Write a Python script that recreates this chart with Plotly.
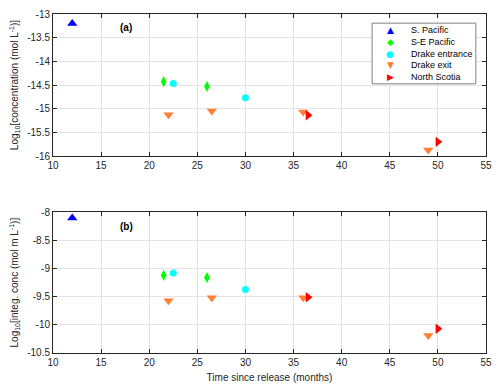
import plotly.graph_objects as go

# Panel (a): log10 concentration
sp_x = [12.0]
sp_a = [-13.2]
sep_x = [21.5, 26.0]
sep_a = [-14.43, -14.53]
de_x = [22.5, 30.0]
de_a = [-14.47, -14.77]
dx_x = [22.0, 26.5, 36.0, 49.0]
dx_a = [-15.13, -15.05, -15.07, -15.87]
ns_x = [36.5, 50.0]
ns_a = [-15.14, -15.7]

# Panel (b): log10 integrated concentration
sp_b = [-8.1]
sep_b = [-9.12, -9.16]
de_b = [-9.08, -9.37]
dx_b = [-9.57, -9.52, -9.52, -10.19]
ns_b = [-9.51, -10.07]

x_ticks = [10, 15, 20, 25, 30, 35, 40, 45, 50, 55]
ya_ticks = [-13, -13.5, -14, -14.5, -15, -15.5, -16]
yb_ticks = [-8, -8.5, -9, -9.5, -10, -10.5]

series = [
    ("S. Pacific", sp_x, sp_a, sp_b, "triangle-up", "#0000ff", 9, "\u25b2"),
    ("S-E Pacific", sep_x, sep_a, sep_b, "diamond-tall", "#00ff00", 8, "\u25c6"),
    ("Drake entrance", de_x, de_a, de_b, "circle", "#00ffff", 7, "\u25cf"),
    ("Drake exit", dx_x, dx_a, dx_b, "triangle-down", "#ff7f33", 9, "\u25bc"),
    ("North Scotia", ns_x, ns_a, ns_b, "triangle-right", "#ff0000", 9, "\u25b6"),
]

fig = go.Figure()
for name, xs, ya, yb, sym, col, sz, glyph in series:
    fig.add_trace(go.Scatter(x=xs, y=ya, mode="markers", name=name, showlegend=False,
                             marker=dict(symbol=sym, color=col, size=sz, line=dict(width=0)),
                             xaxis="x", yaxis="y"))
    fig.add_trace(go.Scatter(x=xs, y=yb, mode="markers", name=name, showlegend=False,
                             marker=dict(symbol=sym, color=col, size=sz, line=dict(width=0)),
                             xaxis="x2", yaxis="y2"))

font_fam = "Liberation Sans, Arial, sans-serif"
axcol = "#262626"
gridcol = "#e3e3e3"

def fmt(v):
    return "%g" % v

common = dict(showline=True, linecolor=axcol, linewidth=1, mirror="ticks",
              ticks="inside", ticklen=4, tickcolor=axcol, showgrid=True,
              gridcolor=gridcol, zeroline=False, tickfont=dict(size=10, color=axcol))

# custom compact legend (paper coordinates)
leg_x0, leg_x1, leg_y0, leg_y1 = 0.737, 0.9765, 0.794, 0.973
sym_x, txt_x = 0.779, 0.8226
row_y = [0.9528, 0.9188, 0.8832, 0.8484, 0.8154]

annotations = [
    dict(x=17.6, y=-13.28, xref="x", yref="y", text="<b>(a)</b>", showarrow=False,
         font=dict(size=10, color="#000000")),
    dict(x=17.6, y=-8.26, xref="x2", yref="y2", text="<b>(b)</b>", showarrow=False,
         font=dict(size=10, color="#000000")),
]
for (name, xs, ya, yb, sym, col, sz, glyph), ry in zip(series, row_y):
    annotations.append(dict(x=sym_x, y=ry, xref="paper", yref="paper", text=glyph,
                            showarrow=False, xanchor="center", yanchor="middle",
                            font=dict(size=9, color=col, family="DejaVu Sans")))
    annotations.append(dict(x=txt_x, y=ry, xref="paper", yref="paper", text=name,
                            showarrow=False, xanchor="left", yanchor="middle",
                            font=dict(size=9, color="#000000")))

fig.update_layout(
    width=500, height=389,
    margin=dict(l=53, r=9, t=8, b=36),
    paper_bgcolor="white", plot_bgcolor="white",
    font=dict(family=font_fam, size=10, color=axcol),
    showlegend=False,
    xaxis=dict(domain=[0, 1], anchor="y", range=[10, 55], tickvals=x_ticks,
               ticktext=[fmt(v) for v in x_ticks], **common),
    yaxis=dict(domain=[0.581, 1], anchor="x", range=[-16, -13], tickvals=ya_ticks,
               ticktext=[fmt(v) for v in ya_ticks],
               title=dict(text="Log<sub>10</sub>[concentration (mol L<sup>-1</sup>)]",
                          font=dict(size=10, color=axcol), standoff=6), **common),
    xaxis2=dict(domain=[0, 1], anchor="y2", range=[10, 55], tickvals=x_ticks,
                ticktext=[fmt(v) for v in x_ticks],
                title=dict(text="Time since release (months)", font=dict(size=10, color=axcol),
                           standoff=6), **common),
    yaxis2=dict(domain=[0, 0.415], anchor="x2", range=[-10.5, -8], tickvals=yb_ticks,
                ticktext=[fmt(v) for v in yb_ticks],
                title=dict(text="Log<sub>10</sub>[integ. conc (mol m L<sup>-1</sup>)]",
                           font=dict(size=10, color=axcol), standoff=6), **common),
    shapes=[dict(type="rect", xref="paper", yref="paper", x0=leg_x0, x1=leg_x1,
                 y0=leg_y0, y1=leg_y1, line=dict(color="#808080", width=1), fillcolor="white",
                 layer="above")],
    annotations=annotations,
)

fig.write_html("out.html", config={"displayModeBar": False},
               post_script="document.body.style.margin='0';")
